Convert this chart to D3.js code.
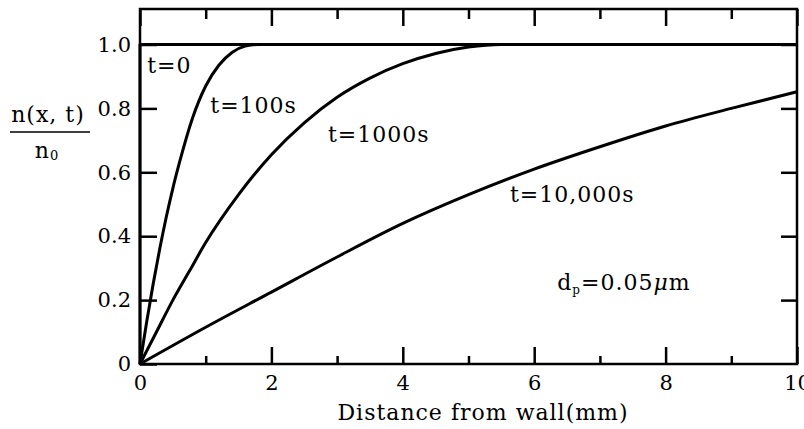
<!DOCTYPE html>
<html lang="en">

<head>
    <meta charset="UTF-8">
    <title>n(x,t)/n0 vs distance from wall</title>
    <script src="https://d3js.org/d3.v7.min.js"></script>
    <style>
        body {
            margin: 0;
            background: #fff;
        }

        svg {
            display: block;
            background-color: #fff;
            font-family: "DejaVu Serif", serif;
        }

        .curve {
            fill: none;
            stroke: #000;
            stroke-width: 3px;
            stroke-linejoin: round;
        }

        .tick line {
            stroke: #000;
            stroke-width: 2.5px;
        }

        .tick text {
            font-family: "DejaVu Serif", serif;
            font-size: 21px;
            fill: #000;
        }

        .note {
            font-size: 22px;
            letter-spacing: 1px;
            fill: #000;
        }
    </style>
</head>

<body>
    <div id="chart"></div>

    <script>
        // t = 0 : step profile
        const dist0 = [0, 0, 10];
        const n0 = [0, 1, 1];

        // t = 100 s
        const dist100 = [0, 0.1, 0.2, 0.3, 0.4, 0.5, 0.6, 0.8, 1.0, 1.2, 1.4, 1.6, 1.8, 2.0];
        const n100 = [0, 0.13, 0.25, 0.36, 0.46, 0.55, 0.63, 0.77, 0.87, 0.935, 0.975, 0.995, 1.0, 1.0];

        // t = 1000 s
        const dist1000 = [0, 0.25, 0.5, 0.75, 1, 1.5, 2, 2.5, 3, 3.5, 4, 4.5, 5, 5.5, 6];
        const n1000 = [0, 0.1, 0.2, 0.29, 0.38, 0.53, 0.655, 0.755, 0.835, 0.895, 0.94, 0.972, 0.992, 1.0, 1.0];

        // t = 10,000 s
        const dist10000 = [0, 1, 2, 3, 4, 5, 6, 7, 8, 9, 10];
        const n10000 = [0, 0.115, 0.225, 0.335, 0.44, 0.53, 0.61, 0.68, 0.745, 0.80, 0.852];

        const xMajor = [0, 2, 4, 6, 8, 10];
        const xMinor = [1, 3, 5, 7, 9];
        const yTicks = [0, 0.2, 0.4, 0.6, 0.8, 1.0];

        const margin = { top: 9, right: 7, bottom: 65, left: 140 },
            width = 804 - margin.left - margin.right,
            height = 429 - margin.top - margin.bottom;

        const svg = d3.select("#chart").append("svg")
            .attr("width", width + margin.left + margin.right)
            .attr("height", height + margin.top + margin.bottom);

        const g = svg.append("g")
            .attr("transform", `translate(${margin.left},${margin.top})`);

        const x = d3.scaleLinear().domain([0, 10]).range([0, width]);
        const y = d3.scaleLinear().domain([0, 1]).range([height, 35.5]);

        // ticks (all pointing inward)
        const bottomMajor = g.append("g")
            .attr("transform", `translate(0,${height})`)
            .call(d3.axisBottom(x).tickValues(xMajor).tickSize(-17).tickPadding(11).tickFormat(d3.format("d")));
        g.append("g")
            .attr("transform", `translate(0,${height})`)
            .call(d3.axisBottom(x).tickValues(xMinor).tickSize(-8).tickFormat(""));
        g.append("g")
            .call(d3.axisTop(x).tickValues(xMajor).tickSize(-17).tickFormat(""));
        g.append("g")
            .call(d3.axisTop(x).tickValues(xMinor).tickSize(-10).tickFormat(""));
        g.append("g")
            .call(d3.axisLeft(y).tickValues(yTicks).tickSize(-17).tickPadding(9)
                .tickFormat(d => d === 0 ? "0" : d3.format(".1f")(d)));
        g.append("g")
            .attr("transform", `translate(${width},0)`)
            .call(d3.axisRight(y).tickValues(yTicks.slice(1)).tickSize(-16).tickFormat(""));

        g.selectAll(".domain").remove();
        bottomMajor.selectAll("text").attr("dy", "0.71em");

        // frame
        g.append("rect")
            .attr("x", 0)
            .attr("y", 0)
            .attr("width", width)
            .attr("height", height)
            .attr("fill", "none")
            .attr("stroke", "#000")
            .attr("stroke-width", 2.5);

        // curves
        const linha = d3.line()
            .x(d => x(d[0]))
            .y(d => y(d[1]));

        const series = [
            { dist: dist0, n: n0, curve: d3.curveLinear },
            { dist: dist100, n: n100, curve: d3.curveMonotoneX },
            { dist: dist1000, n: n1000, curve: d3.curveMonotoneX },
            { dist: dist10000, n: n10000, curve: d3.curveMonotoneX }
        ];

        series.forEach(s => {
            g.append("path")
                .datum(s.dist.map((d, i) => [d, s.n[i]]))
                .attr("class", "curve")
                .attr("d", linha.curve(s.curve));
        });

        // curve labels
        const note = (mm, val, txt) => g.append("text")
            .attr("class", "note")
            .attr("x", x(mm))
            .attr("y", y(val))
            .text(txt);

        note(0.11, 0.911, "t=0");
        note(1.07, 0.786, "t=100s");
        note(2.86, 0.695, "t=1000s");
        note(5.63, 0.507, "t=10,000s");

        const dp = g.append("text")
            .attr("class", "note")
            .attr("x", x(6.35))
            .attr("y", y(0.232));
        dp.append("tspan").text("d");
        dp.append("tspan").attr("font-size", 12).attr("dy", 4).text("p");
        dp.append("tspan").attr("dy", -4).text("=0.05");
        dp.append("tspan").attr("font-style", "italic").text("μ");
        dp.append("tspan").text("m");

        // axis titles
        svg.append("text")
            .attr("class", "note")
            .attr("x", 483)
            .attr("y", 420)
            .attr("text-anchor", "middle")
            .text("Distance from wall(mm)");

        svg.append("text")
            .attr("class", "note")
            .attr("x", 48)
            .attr("y", 122)
            .attr("text-anchor", "middle")
            .text("n(x, t)");

        svg.append("line")
            .attr("x1", 10)
            .attr("x2", 90)
            .attr("y1", 132)
            .attr("y2", 132)
            .attr("stroke", "#000")
            .attr("stroke-width", 1.5);

        const nz = svg.append("text")
            .attr("class", "note")
            .attr("x", 47)
            .attr("y", 158)
            .attr("text-anchor", "middle");
        nz.append("tspan").text("n");
        nz.append("tspan").attr("font-size", 13).attr("dy", 2).text("0");
    </script>
</body>

</html>
